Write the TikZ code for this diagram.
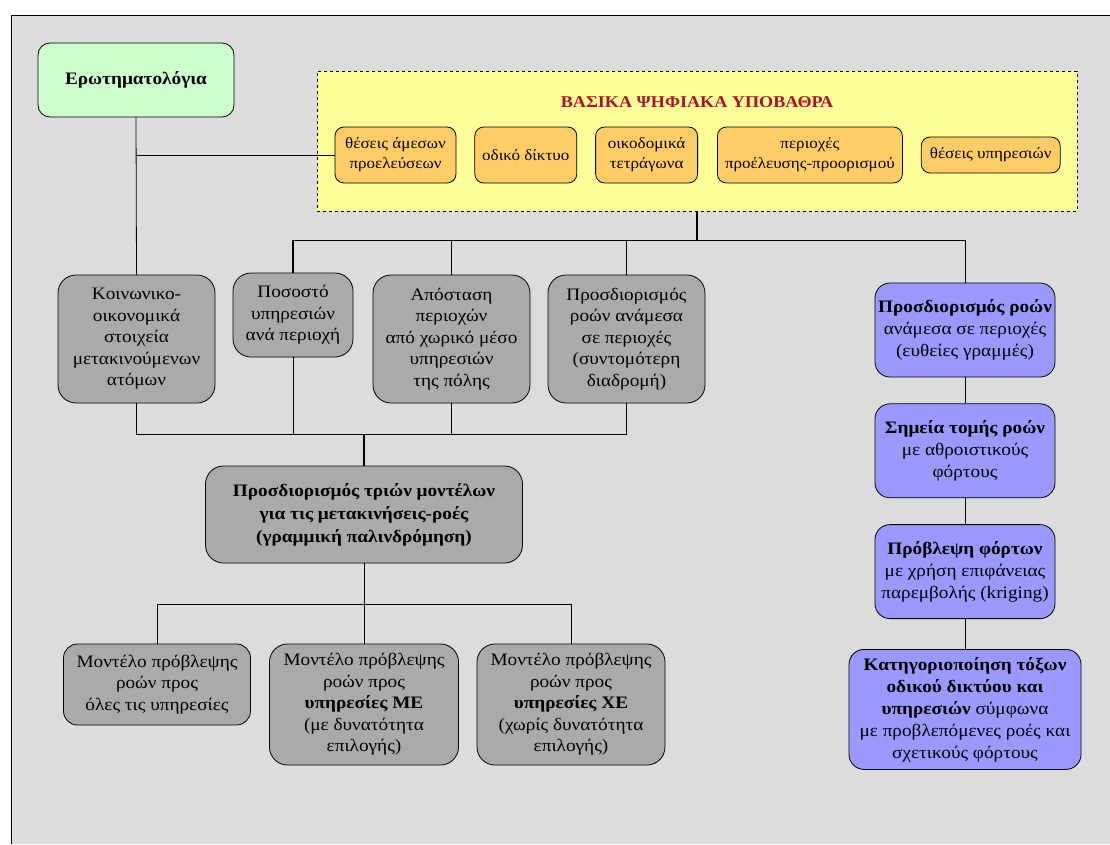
\documentclass[tikz,border=0pt]{standalone}
\usepackage{fontspec}
\setmainfont{Liberation Serif}[FakeStretch=1.1]
\usepackage{tikz}
\usetikzlibrary{positioning}
\definecolor{panel}{RGB}{220,220,220}
\definecolor{green}{RGB}{204,255,204}
\definecolor{yellow}{RGB}{255,255,153}
\definecolor{orange}{RGB}{255,204,102}
\definecolor{grey}{RGB}{170,170,170}
\definecolor{blue}{RGB}{153,153,255}
\definecolor{red}{RGB}{176,16,48}
\tikzstyle{survey} = [rectangle, draw=black, line width=0.8pt, fill=green, rounded corners=12pt, align=center, font=\bfseries\fontsize{17.5}{21}\selectfont, minimum width=196pt, minimum height=74pt]
\tikzstyle{basebox} = [rectangle, draw=black, line width=0.8pt, dashed, fill=yellow, minimum width=760pt, minimum height=140pt]
\tikzstyle{basetitle} = [text=red, font=\bfseries\fontsize{16.5}{20}\selectfont]
\tikzstyle{layer} = [rectangle, draw=black, line width=0.8pt, fill=orange, rounded corners=9pt, align=center, inner sep=1pt, font=\fontsize{15.5}{20}\selectfont, minimum height=56pt]
\tikzstyle{task} = [rectangle, draw=black, line width=0.8pt, fill=grey, rounded corners=18pt, align=center, inner sep=1pt, font=\fontsize{17.5}{21.5}\selectfont]
\tikzstyle{flow} = [rectangle, draw=black, line width=0.8pt, fill=blue, rounded corners=15pt, align=center, inner sep=1pt, font=\fontsize{17.5}{22}\selectfont, minimum width=180pt, minimum height=94pt]
\tikzstyle{tedge} = [draw, line width=0.8pt]
\tikzstyle{tbus} = [draw, line width=1.5pt]

\begin{document}
\begin{tikzpicture}[x=1pt, y=-1pt]

\useasboundingbox (0,0) rectangle (1110,844);
\fill[panel] (11,15) rectangle (1110,844);
\draw[line width=0.8pt] (1110,15) -- (11,15) -- (11,844);

% inputs =============================

\node[survey] (quest) at (136,80) {Ερωτηματολόγια};
\node[basebox] (base) at (697,141) {};
\node[basetitle] (title) at (697,102) {ΒΑΣΙΚΑ ΨΗΦΙΑΚΑ ΥΠΟΒΑΘΡΑ};

% digital layers
\node[layer, minimum width=121pt] (src) at (395.5,155) {θέσεις άμεσων\\προελεύσεων};
\node[layer, minimum width=102pt, right=18pt of src] (road) {οδικό δίκτυο};
\node[layer, minimum width=102pt, right=18pt of road] (blocks) {οικοδομικά\\τετράγωνα};
\node[layer, minimum width=185pt, right=19pt of blocks] (od) {περιοχές\\προέλευσης-προορισμού};
\node[layer, minimum width=139pt, minimum height=36pt, right=18pt of od] (serv) {θέσεις υπηρεσιών};

% variables
\node[task, minimum width=157pt, minimum height=128pt] (socio) at (136.5,339) {Κοινωνικο-\\οικονομικά\\στοιχεία\\μετακινούμενων\\ατόμων};
\node[task, minimum width=120pt, minimum height=84pt] (share) at (293,315) {Ποσοστό\\υπηρεσιών\\ανά περιοχή};
\node[task, minimum width=157pt, minimum height=128pt] (dist) at (451.5,339) {Απόσταση\\περιοχών\\από χωρικό μέσο\\υπηρεσιών\\της πόλης};
\node[task, minimum width=157pt, minimum height=128pt] (route) at (626.5,339) {Προσδιορισμός\\ροών ανάμεσα\\σε περιοχές\\(συντομότερη\\διαδρομή)};

% models
\node[task, font=\bfseries\fontsize{17.5}{23}\selectfont, minimum width=317pt, minimum height=97pt] (model) at (364,514.5) {Προσδιορισμός τριών μοντέλων\\για τις μετακινήσεις-ροές\\(γραμμική παλινδρόμηση)};
\node[task, minimum width=187pt, minimum height=81pt, rounded corners=14pt] (mall) at (157,684.5) {Μοντέλο πρόβλεψης\\ροών προς\\όλες τις υπηρεσίες};
\node[task, minimum width=189pt, minimum height=121pt] (mme) at (364,704.5) {Μοντέλο πρόβλεψης\\ροών προς\\\textbf{υπηρεσίες ΜΕ}\\(με δυνατότητα\\επιλογής)};
\node[task, minimum width=188pt, minimum height=121pt] (mxe) at (571,704.5) {Μοντέλο πρόβλεψης\\ροών προς\\\textbf{υπηρεσίες ΧΕ}\\(χωρίς δυνατότητα\\επιλογής)};

% flows
\node[flow] (fline) at (965,330) {\textbf{Προσδιορισμός ροών}\\ανάμεσα σε περιοχές\\(ευθείες γραμμές)};
\node[flow, below=26pt of fline] (fcut) {\textbf{Σημεία τομής ροών}\\με αθροιστικούς\\φόρτους};
\node[flow, below=26pt of fcut] (fload) {\textbf{Πρόβλεψη φόρτων}\\με χρήση επιφάνειας\\παρεμβολής (kriging)};
\node[flow, minimum width=232pt, minimum height=120pt, below=30pt of fload] (fclass) {\textbf{Κατηγοριοποίηση τόξων}\\\textbf{οδικού δικτύου και}\\\textbf{υπηρεσιών} σύμφωνα\\με προβλεπόμενες ροές και\\σχετικούς φόρτους};

% junctions
\coordinate[below=29pt of base.south] (tb);
\coordinate[above=31pt of model.north] (mb);
\coordinate[below=41pt of model.south] (lb);

%edges
\path[tedge] (quest.south) -- (socio.north);
\path[tedge] (quest.south |- src.west) -- (src.west);

\path[tbus] (base.south) -- (tb);
\path[tbus] (tb) -| (share.north);
\path[tedge] (tb) -| (dist.north);
\path[tedge] (tb) -| (route.north);
\path[tedge] (tb) -| (fline.north);

\path[tedge] (socio.south) |- (mb);
\path[tedge] (share.south) |- (mb);
\path[tedge] (dist.south) |- (mb);
\path[tedge] (route.south) |- (mb);
\path[tbus] (mb) -- (model.north);

\path[tedge] (model.south) -- (lb);
\path[tedge] (lb) -| (mall.north);
\path[tedge] (lb) -- (mme.north);
\path[tedge] (lb) -| (mxe.north);

\path[tedge] (fline) -- (fcut);
\path[tedge] (fcut) -- (fload);
\path[tedge] (fload) -- (fclass);

\end{tikzpicture}
\end{document}
